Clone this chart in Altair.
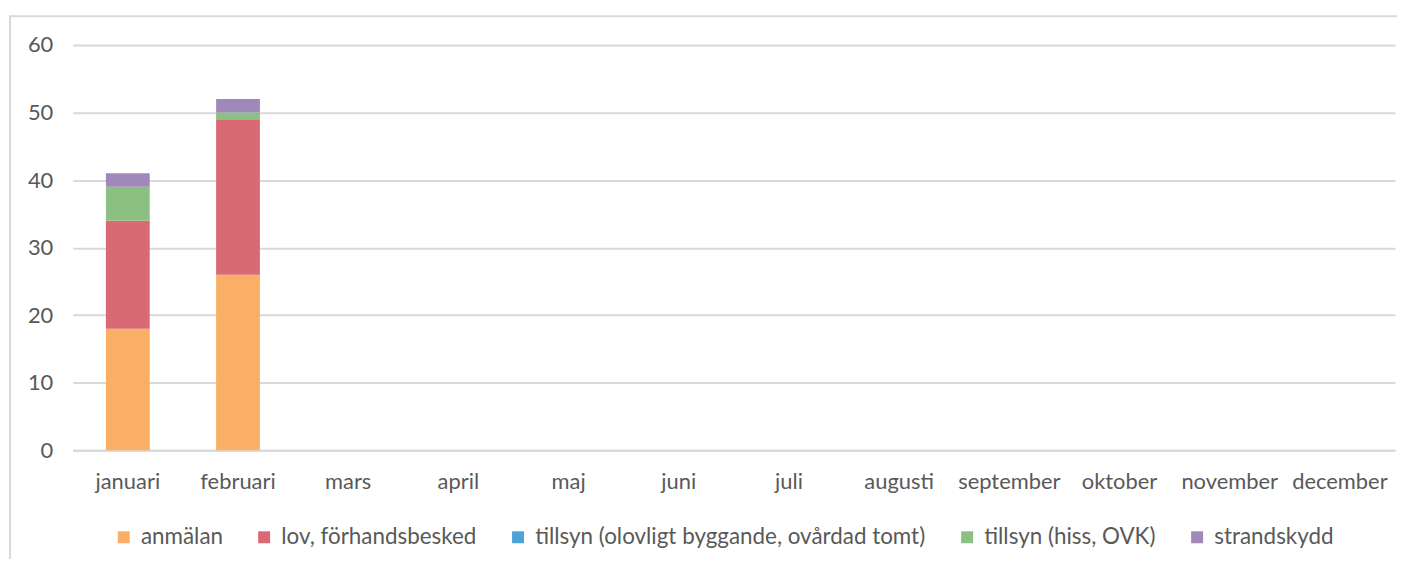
import altair as alt
import pandas as pd

months = ["januari", "februari", "mars", "april", "maj", "juni", "juli",
          "augusti", "september", "oktober", "november", "december"]
series = ["anmälan", "lov, förhandsbesked",
          "tillsyn (olovligt byggande, ovårdad tomt)",
          "tillsyn (hiss, OVK)", "strandskydd"]
colors = ["#F9B066", "#D96A74", "#4BA3D6", "#8CC083", "#A088B8"]

anmalan = [18, 26]
lov = [16, 23]
tillsyn_olovligt = [0, 0]
tillsyn_hiss = [5, 1]
strandskydd = [2, 2]

values = [anmalan, lov, tillsyn_olovligt, tillsyn_hiss, strandskydd]
rows = []
for si, (name, vals) in enumerate(zip(series, values)):
    for mi, v in enumerate(vals):
        rows.append({"month": months[mi], "series": name, "value": v, "idx": si})
df = pd.DataFrame(rows)

FONT = "Lato"
GRAY = "#595959"

bars = alt.Chart(df).mark_bar(size=44).encode(
    x=alt.X("month:N", sort=months, scale=alt.Scale(domain=months, paddingInner=0.6, paddingOuter=0.3),
            axis=alt.Axis(title=None, labelAngle=0, labelFont=FONT, labelFontSize=22,
                          labelColor=GRAY, ticks=False, domain=True, domainColor="#d9d9d9",
                          domainWidth=2, labelPadding=21, grid=False)),
    y=alt.Y("value:Q", stack="zero", scale=alt.Scale(domain=[0, 60], nice=False),
            axis=alt.Axis(title=None, values=[0, 10, 20, 30, 40, 50, 60], labelFont=FONT,
                          labelFontSize=22, labelColor=GRAY, ticks=False, domain=False,
                          gridColor="#d9d9d9", gridWidth=2, labelPadding=20)),
    color=alt.Color("series:N", scale=alt.Scale(domain=series, range=colors),
                    legend=alt.Legend(title=None, orient="none", direction="horizontal",
                                      legendX=40, legendY=483, labelFont=FONT, labelFontSize=22.5,
                                      labelColor=GRAY, symbolType="square", symbolSize=144,
                                      symbolStrokeWidth=0, labelLimit=700, columnPadding=30,
                                      labelOffset=6)),
    order=alt.Order("idx:Q", sort="ascending"),
)

base = alt.Chart(pd.DataFrame({"a": [0]}))
frame_left = base.mark_rule(color="#d9d9d9", strokeWidth=2).encode(
    x=alt.value(-63), y=alt.value(-29), y2=alt.value(520))
frame_top = base.mark_rule(color="#d9d9d9", strokeWidth=2).encode(
    x=alt.value(-64), x2=alt.value(1330), y=alt.value(-29))

chart = alt.layer(frame_left, frame_top, bars).properties(
    width=1328, height=407,
    autosize=alt.AutoSizeParams(type="none"),
    padding={"left": 65, "top": 36, "right": 2, "bottom": 108},
).configure_view(stroke=None)

chart.save("out.html", embed_options={"renderer": "svg", "actions": False})
